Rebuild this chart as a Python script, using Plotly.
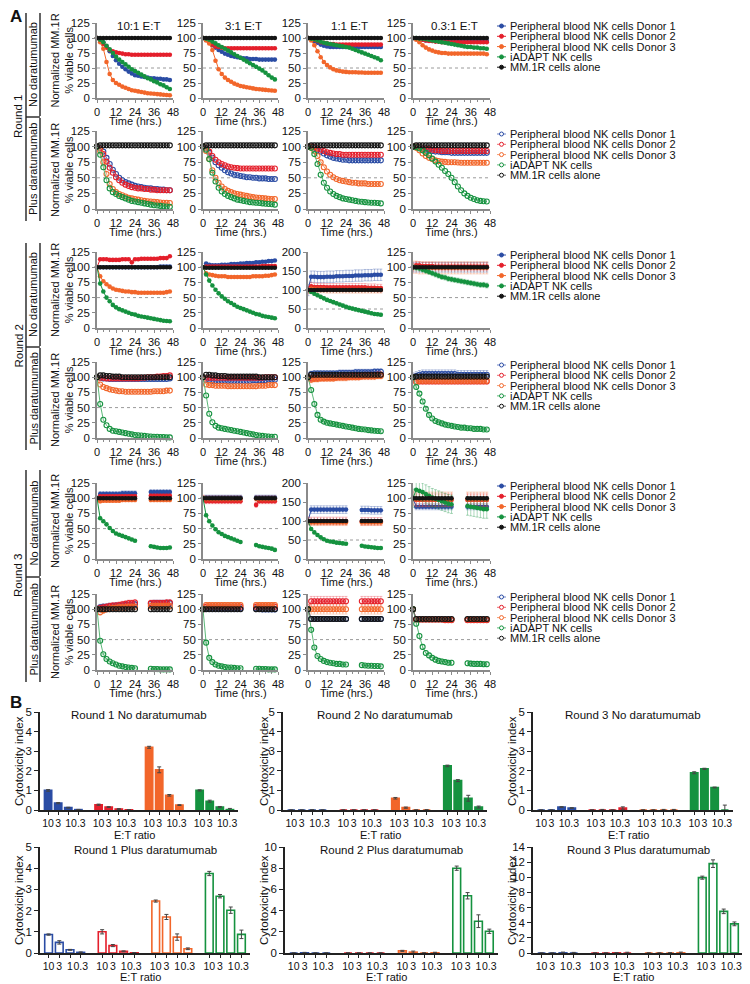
"""
NK cell killing of MM.1R cells - viability time courses (A) and cytotoxicity index (B)
"""
import plotly.graph_objects as go

W, H = 750, 984
OFF = 8  # the page body adds an 8 px margin; reference pixel positions are shifted back by it
FONT = "Arial, Liberation Sans, sans-serif"

# ---------------- data: panel A ----------------
T = [0, 2, 4, 6, 8, 10, 12, 14, 16, 18, 20, 22, 24, 26, 28, 30, 32, 34, 36, 38, 40, 42, 44, 46]
N = None

SERIES = ["Peripheral blood NK cells Donor 1", "Peripheral blood NK cells Donor 2",
          "Peripheral blood NK cells Donor 3", "iADAPT NK cells", "MM.1R cells alone"]
KEYS = ["d1", "d2", "d3", "ia", "mm"]
COL_TITLES = ["10:1 E:T", "3:1 E:T", "1:1 E:T", "0.3:1 E:T"]

# Round 1, no daratumumab
r1n_10 = {
    "d1": [100, 98, 93, 86, 78, 70, 63, 57, 52, 48, 44, 41, 38, 37, 36, 35, 34, 33, 33, 32, 32, 31, 31, 30],
    "d2": [100, 96, 90, 84, 80, 78, 76, 75, 74, 73, 73, 72, 72, 72, 72, 72, 72, 72, 72, 72, 72, 72, 72, 72],
    "d3": [100, 93, 82, 60, 40, 30, 25, 22, 19, 17, 15, 13, 12, 11, 10, 9, 8, 7.5, 7, 6.5, 6, 5.5, 5, 4.5],
    "ia": [100, 97, 93, 87, 81, 75, 69, 64, 60, 56, 52, 48, 45, 42, 39, 36, 33, 31, 28, 26, 23, 21, 18, 15],
    "mm": [100, 100, 100, 100, 100, 100, 100, 100, 100, 100, 100, 100, 100, 100, 100, 100, 100, 100, 100, 100, 100, 100, 100, 100],
}
r1n_3 = {
    "d1": [100, 97, 93, 88, 84, 80, 77, 74, 72, 70, 69, 68, 67, 66, 66, 65, 65, 65, 64, 64, 64, 64, 64, 64],
    "d2": [100, 97, 93, 89, 86, 85, 84, 83, 83, 83, 83, 83, 83, 83, 83, 83, 83, 83, 83, 83, 83, 83, 83, 83],
    "d3": [100, 96, 91, 80, 62, 48, 40, 34, 30, 27, 24, 22, 20, 19, 18, 17, 16, 15, 14.5, 14, 13.5, 13, 12.5, 12],
    "ia": [100, 99, 97, 94, 91, 88, 85, 82, 79, 76, 73, 70, 67, 64, 61, 58, 55, 52, 49, 46, 42, 38, 34, 31],
    "mm": [100, 100, 100, 100, 100, 100, 100, 100, 100, 100, 100, 100, 100, 100, 100, 100, 100, 100, 100, 100, 100, 100, 100, 100],
}
r1n_1 = {
    "d1": [100, 98, 95, 92, 89, 87, 86, 85, 85, 85, 85, 85, 85, 85, 85, 85, 85, 85, 85, 85, 85, 85, 85, 85],
    "d2": [100, 99, 97, 95, 93, 92, 91, 90, 90, 89, 89, 89, 89, 89, 89, 89, 89, 89, 89, 89, 89, 89, 89, 89],
    "d3": [100, 96, 88, 78, 68, 60, 55, 51, 48, 46, 45, 44, 43.5, 43, 43, 43, 42.5, 42.5, 42, 42, 42, 42, 42, 42],
    "ia": [100, 99, 98, 96, 94, 92, 91, 90, 89, 88, 87, 86, 85, 84, 82, 80, 78, 76, 74, 72, 70, 68, 66, 63],
    "mm": [100, 100, 100, 100, 100, 100, 100, 100, 100, 100, 100, 100, 100, 100, 100, 100, 100, 100, 100, 100, 100, 100, 100, 100],
}
r1n_03 = {
    "d1": [100, 99, 98, 97, 96, 96, 95, 95, 95, 95, 95, 95, 95, 95, 95, 95, 95, 95, 95, 95, 95, 95, 95, 95],
    "d2": [100, 99, 98, 97, 96, 95, 95, 94, 94, 93, 93, 93, 93, 93, 93, 93, 93, 93, 93, 93, 93, 93, 93, 93],
    "d3": [100, 97, 93, 88, 84, 81, 79, 77, 76, 75, 75, 74, 74, 74, 74, 74, 74, 74, 74, 74, 74, 74, 74, 73],
    "ia": [100, 100, 99, 99, 98, 97, 96, 95, 94, 93, 92, 91, 90, 89, 88, 87, 86, 85, 85, 84, 84, 83, 83, 82],
    "mm": [100, 100, 100, 100, 100, 100, 100, 100, 100, 100, 100, 100, 100, 100, 100, 100, 100, 100, 100, 100, 100, 100, 100, 100],
}

# Round 1, plus daratumumab
r1p_10 = {
    "d1": [100, 98, 92, 82, 72, 63, 56, 50, 46, 43, 41, 39, 37, 36, 35, 34, 33, 33, 32, 32, 31, 31, 30, 30],
    "d2": [100, 97, 88, 76, 66, 58, 51, 46, 42, 39, 37, 35, 34, 33, 33, 32, 32, 31, 31, 30, 30, 30, 30, 30],
    "d3": [100, 93, 75, 56, 40, 32, 27, 24, 22, 20, 18, 17, 16, 15, 14, 13, 12.5, 12, 11.5, 11, 10.5, 10, 10, 9.5],
    "ia": [100, 87, 67, 46, 33, 27, 24, 21, 19, 17, 15, 13, 12, 11, 10, 9, 8, 7, 6, 5.5, 5, 4.5, 4, 3.5],
    "mm": [100, 102, 102, 102, 102, 102, 102, 102, 102, 102, 102, 102, 102, 102, 102, 102, 102, 102, 102, 102, 102, 102, 102, 102],
}
r1p_3 = {
    "d1": [100, 97, 90, 82, 75, 70, 66, 62, 59, 57, 55, 54, 53, 52, 51, 51, 50, 50, 49, 49, 49, 48, 48, 48],
    "d2": [100, 98, 92, 85, 79, 75, 72, 70, 68, 67, 66, 65.5, 65, 65, 65, 65, 65, 65, 65, 65, 65, 65, 65, 65],
    "d3": [100, 93, 80, 62, 50, 42, 36, 32, 29, 27, 25, 24, 23, 22, 21, 20, 19, 18.5, 18, 17.5, 17, 16.5, 16, 16],
    "ia": [100, 95, 80, 58, 44, 34, 28, 24, 21, 19, 17, 15, 14, 13, 12, 11, 10.5, 10, 9.5, 9, 8.5, 8, 7.5, 7],
    "mm": [100, 102, 102, 102, 102, 102, 102, 102, 102, 102, 102, 102, 102, 102, 102, 102, 102, 102, 102, 102, 102, 102, 102, 102],
}
r1p_1 = {
    "d1": [100, 100, 98, 95, 92, 89, 86, 84, 82, 81, 80, 79, 79, 78, 78, 78, 78, 78, 78, 78, 78, 78, 78, 78],
    "d2": [100, 100, 99, 97, 95, 93, 91, 90, 89, 88, 88, 87, 87, 87, 87, 87, 87, 87, 87, 87, 87, 87, 87, 87],
    "d3": [100, 98, 93, 85, 75, 67, 60, 55, 51, 48, 46, 45, 44, 43, 42, 42, 41, 41, 41, 40, 40, 40, 40, 40],
    "ia": [100, 98, 88, 72, 55, 42, 34, 28, 24, 21, 19, 17, 16, 15, 14, 13, 12, 11.5, 11, 10.5, 10, 10, 9.5, 9],
    "mm": [100, 102, 102, 102, 102, 102, 102, 102, 102, 102, 102, 102, 102, 102, 102, 102, 102, 102, 102, 102, 102, 102, 102, 102],
}
r1p_03 = {
    "d1": [100, 99, 98, 96, 95, 94, 93, 92, 92, 91, 91, 91, 90, 90, 90, 90, 90, 90, 90, 90, 90, 90, 90, 90],
    "d2": [100, 100, 99, 98, 97, 96, 95, 94, 94, 93, 93, 93, 93, 93, 93, 93, 93, 93, 93, 93, 93, 93, 93, 93],
    "d3": [100, 98, 94, 89, 85, 82, 80, 78, 77, 76, 75.5, 75, 75, 75, 74.5, 74, 74, 74, 74, 74, 74, 74, 74, 74],
    "ia": [100, 99, 97, 94, 90, 86, 81, 76, 71, 66, 61, 56, 50, 43, 36, 30, 25, 21, 18, 16, 14, 13, 12.5, 12],
    "mm": [100, 102, 102, 102, 102, 102, 102, 102, 102, 102, 102, 102, 102, 102, 102, 102, 102, 102, 102, 102, 102, 102, 102, 102],
}

# Round 2, no daratumumab
r2n_10 = {
    "d1": [100, 100, 100, 100, 100, 100, 100, 100, 100, 100, 100, 100, 100, 100, 100, 100, 100, 100, 100, 100, 101, 101, 101, 101],
    "d2": [100, 113, 113, 113, 112, 112, 112, 112, 113, 113, 113, 108, 113, 113, 114, 114, 114, 114, 114, 114, 115, 115, 115, 118],
    "d3": [100, 85, 77, 72, 68, 65, 63, 62, 61, 60, 60, 59, 59, 58, 58, 58, 58, 58, 58, 58, 58, 58, 59, 60],
    "ia": [100, 73, 60, 50, 44, 38, 34, 31, 29, 27, 25, 23, 22, 20, 19, 18, 17, 16, 15, 14, 13, 12, 11.5, 11],
    "mm": [100, 100, 100, 100, 100, 100, 100, 100, 100, 100, 100, 100, 100, 100, 100, 100, 100, 100, 100, 100, 100, 100, 100, 100],
}
r2n_3 = {
    "d1": [100, 106, 104, 103, 103, 103, 104, 104, 104, 105, 105, 105, 106, 106, 107, 107, 107, 108, 108, 109, 109, 110, 110, 111],
    "d2": [100, 101, 101, 101, 101, 101, 101, 101, 101, 101, 101, 101, 101, 101, 101, 101, 101, 101, 101, 102, 102, 102, 102, 102],
    "d3": [100, 90, 88, 87, 86, 85, 85, 85, 84, 84, 84, 84, 84, 84, 84, 84, 85, 85, 85, 85, 86, 86, 87, 88],
    "ia": [100, 88, 78, 70, 63, 57, 52, 48, 44, 41, 38, 35, 33, 31, 29, 27, 25, 23, 22, 20, 19, 18, 17, 16],
    "mm": [100, 99, 99, 99, 99, 99, 99, 99, 99, 99, 99, 99, 99, 99, 99, 99, 99, 99, 99, 99, 99, 99, 99, 99],
}
r2n_1 = {
    "d1": [100, 135, 135, 134, 134, 134, 135, 135, 135, 136, 136, 136, 137, 137, 137, 138, 138, 138, 139, 139, 139, 140, 140, 140],
    "d2": [100, 110, 108, 108, 108, 108, 107, 107, 107, 107, 107, 107, 107, 107, 107, 107, 107, 107, 107, 106, 106, 106, 105, 105],
    "d3": [100, 103, 102, 101, 101, 101, 100, 100, 100, 100, 100, 100, 100, 100, 100, 100, 100, 100, 100, 100, 100, 100, 100, 100],
    "ia": [100, 95, 90, 86, 82, 78, 74, 71, 68, 65, 62, 59, 56, 53, 51, 49, 47, 45, 43, 41, 39, 37, 36, 35],
    "mm": [100, 100, 100, 100, 100, 100, 100, 100, 100, 100, 100, 100, 100, 100, 100, 100, 100, 100, 100, 100, 100, 100, 100, 100],
}
r2n_03 = {
    "d1": [100, 100, 100, 100, 100, 100, 100, 100, 100, 100, 100, 100, 100, 100, 100, 100, 100, 100, 100, 100, 100, 100, 100, 100],
    "d2": [100, 103, 103, 102, 102, 102, 102, 101, 101, 101, 101, 101, 101, 101, 101, 101, 101, 101, 101, 101, 101, 101, 101, 101],
    "d3": [100, 100, 99, 99, 99, 99, 99, 99, 99, 99, 99, 99, 99, 99, 99, 99, 99, 99, 99, 99, 99, 99, 99, 99],
    "ia": [100, 99, 98, 96, 94, 92, 90, 88, 86, 84, 83, 81, 80, 79, 78, 77, 76, 75, 74, 73, 72, 71, 71, 70],
    "mm": [100, 100, 100, 100, 100, 100, 100, 100, 100, 100, 100, 100, 100, 100, 100, 100, 100, 100, 100, 100, 100, 100, 100, 100],
}

# Round 2, plus daratumumab
r2p_10 = {
    "d1": [100, 99, 98, 98, 97, 97, 97, 97, 97, 97, 97, 97, 97, 97, 97, 97, 97, 97, 97, 97, 97, 97, 97, 98],
    "d2": [100, 99, 99, 98, 98, 98, 98, 98, 98, 98, 98, 98, 98, 98, 99, 99, 100, 100, 100, 101, 101, 102, 102, 103],
    "d3": [100, 88, 84, 82, 80, 79, 78, 77, 77, 76, 76, 76, 76, 76, 76, 76, 76, 76, 77, 77, 77, 77, 78, 78],
    "ia": [100, 56, 30, 21, 15, 12, 11, 10, 9, 8, 7, 6, 5, 4.5, 4, 3.5, 3, 2.5, 2, 2, 1.5, 1.5, 1, 1],
    "mm": [100, 103, 103, 102, 102, 101, 101, 101, 100, 100, 100, 100, 100, 100, 100, 100, 100, 100, 100, 100, 100, 100, 100, 100],
}
r2p_3 = {
    "d1": [100, 96, 95, 94, 94, 94, 94, 94, 94, 94, 94, 94, 94, 94, 94, 94, 95, 95, 95, 95, 95, 96, 96, 96],
    "d2": [100, 99, 99, 99, 99, 99, 99, 99, 99, 99, 99, 99, 99, 99, 99, 99, 99, 99, 99, 99, 100, 100, 100, 100],
    "d3": [100, 88, 87, 87, 86, 86, 86, 86, 85, 85, 85, 85, 85, 85, 85, 85, 85, 85, 86, 86, 86, 87, 87, 87],
    "ia": [100, 70, 40, 26, 20, 17, 16, 15, 14, 13, 12, 11, 10, 9, 8, 7, 6, 5, 4, 3.5, 3, 2.5, 2, 2],
    "mm": [100, 104, 104, 103, 103, 102, 102, 102, 101, 101, 101, 101, 101, 101, 101, 101, 101, 101, 100, 100, 100, 100, 100, 100],
}
r2p_1 = {
    "d1": [100, 105, 106, 106, 106, 106, 106, 106, 106, 106, 107, 107, 107, 107, 107, 108, 108, 108, 108, 108, 108, 109, 109, 109],
    "d2": [100, 98, 99, 99, 99, 99, 100, 100, 100, 100, 101, 101, 101, 101, 102, 102, 102, 102, 103, 103, 103, 103, 104, 104],
    "d3": [100, 96, 97, 97, 98, 98, 98, 98, 98, 99, 99, 99, 99, 100, 100, 100, 100, 101, 101, 101, 101, 101, 102, 102],
    "ia": [100, 79, 56, 38, 30, 27, 25, 24, 23, 22, 21, 20, 19, 18, 17, 16, 15, 14.5, 14, 13, 12.5, 12, 11.5, 11],
    "mm": [100, 104, 104, 104, 104, 104, 104, 104, 104, 104, 104, 104, 104, 104, 104, 104, 104, 104, 104, 104, 104, 104, 104, 104],
}
r2p_03 = {
    "d1": [100, 102, 104, 105, 105, 105, 105, 105, 105, 105, 105, 105, 105, 105, 104, 104, 104, 104, 104, 104, 104, 104, 104, 104],
    "d2": [100, 92, 93, 93, 93, 93, 93, 93, 93, 93, 93, 93, 93, 93, 93, 93, 93, 93, 93, 93, 93, 93, 93, 93],
    "d3": [100, 93, 94, 94, 94, 94, 94, 94, 94, 94, 94, 94, 94, 94, 94, 94, 94, 94, 94, 94, 94, 94, 94, 94],
    "ia": [100, 84, 73, 60, 48, 38, 32, 28, 26, 24, 22, 21, 20, 19, 18, 17, 17, 16, 16, 15, 15, 15, 14, 14],
    "mm": [100, 101, 101, 101, 101, 101, 101, 101, 101, 101, 101, 101, 101, 101, 101, 101, 101, 101, 101, 101, 101, 101, 101, 101],
}

# Round 3, no daratumumab (no reads between 26 and 32 h)
r3n_10 = {
    "d1": [100, 107, 107, 107, 107, 107, 107, 107, 108, 108, 108, 108, 108, N, N, N, N, 110, 110, 110, 110, 110, 110, 110],
    "d2": [100, 103, 103, 103, 103, 103, 103, 103, 103, 103, 103, 103, 103, N, N, N, N, 104, 104, 104, 104, 104, 104, 104],
    "d3": [100, 95, 96, 96, 96, 96, 96, 96, 97, 97, 97, 97, 97, N, N, N, N, 97, 97, 97, 97, 97, 97, 97],
    "ia": [100, 67, 62, 57, 51, 46, 42, 40, 38, 36, 34, 32, 30, N, N, N, N, 21, 20, 19, 18, 18, 18, 19],
    "mm": [100, 100, 100, 100, 100, 100, 100, 100, 100, 100, 100, 100, 100, N, N, N, N, 100, 100, 100, 100, 100, 100, 100],
}
r3n_3 = {
    "d1": [100, 101, 101, 101, 101, 101, 101, 101, 101, 101, 101, 101, 101, N, N, N, N, 101, 101, 101, 101, 101, 101, 101],
    "d2": [100, 95, 95, 95, 95, 95, 95, 95, 95, 95, 95, 95, 95, N, N, N, N, 89, 95, 95, 95, 95, 95, 95],
    "d3": [100, 99, 99, 99, 99, 99, 99, 99, 99, 99, 99, 99, 99, N, N, N, N, 99, 99, 99, 99, 99, 99, 99],
    "ia": [100, 72, 62, 55, 49, 44, 41, 38, 36, 34, 32, 30, 28, N, N, N, N, 23, 21, 20, 19, 18, 17, 15],
    "mm": [100, 100, 100, 100, 100, 100, 100, 100, 100, 100, 100, 100, 100, N, N, N, N, 100, 100, 100, 100, 100, 100, 100],
}
r3n_1 = {
    "d1": [100, 130, 130, 130, 130, 130, 130, 130, 130, 130, 130, 130, 130, N, N, N, N, 129, 129, 129, 128, 128, 128, 128],
    "d2": [100, 100, 100, 100, 100, 100, 100, 100, 100, 100, 100, 100, 100, N, N, N, N, 99, 99, 99, 99, 99, 99, 99],
    "d3": [100, 96, 96, 96, 96, 96, 96, 96, 96, 96, 96, 96, 96, N, N, N, N, 96, 96, 96, 96, 96, 96, 96],
    "ia": [100, 79, 70, 63, 57, 52, 48, 46, 45, 43, 42, 41, 40, N, N, N, N, 35, 33, 32, 31, 30, 29, 29],
    "mm": [100, 100, 100, 100, 100, 100, 100, 100, 100, 100, 100, 100, 100, N, N, N, N, 100, 100, 100, 100, 100, 100, 100],
}
r3n_03 = {
    "d1": [100, 86, 86, 86, 86, 86, 86, 86, 86, 86, 86, 86, 86, N, N, N, N, 86, 86, 86, 86, 86, 86, 86],
    "d2": [100, 97, 97, 97, 97, 97, 97, 97, 97, 97, 97, 97, 97, N, N, N, N, 97, 97, 97, 97, 97, 97, 97],
    "d3": [100, 98, 98, 98, 98, 98, 98, 98, 98, 98, 98, 98, 98, N, N, N, N, 98, 98, 98, 98, 98, 98, 98],
    "ia": [100, 114, 112, 110, 107, 104, 101, 99, 97, 95, 93, 91, 90, N, N, N, N, 87, 86, 85, 84, 83, 82, 82],
    "mm": [100, 100, 100, 100, 100, 100, 100, 100, 100, 100, 100, 100, 100, N, N, N, N, 100, 100, 100, 100, 100, 100, 100],
}

# Round 3, plus daratumumab
r3p_10 = {
    "d1": [100, 103, 104, 104, 105, 105, 106, 106, 106, 107, 107, 107, 108, N, N, N, N, 109, 110, 110, 110, 110, 110, 110],
    "d2": [100, 102, 103, 104, 105, 106, 106, 107, 108, 109, 110, 110, 111, N, N, N, N, 110, 110, 110, 110, 110, 111, 111],
    "d3": [100, 95, 98, 100, 101, 102, 102, 103, 103, 103, 104, 104, 104, N, N, N, N, 105, 105, 105, 105, 105, 105, 105],
    "ia": [100, 48, 26, 18, 14, 11, 9, 7, 6, 5, 4, 3.5, 3, N, N, N, N, 2, 1.5, 1.5, 1, 1, 1, 1],
    "mm": [100, 100, 100, 100, 100, 100, 100, 100, 100, 100, 100, 100, 100, N, N, N, N, 100, 100, 100, 100, 100, 100, 100],
}
r3p_3 = {
    "d1": [100, 101, 101, 101, 101, 101, 101, 101, 101, 101, 101, 101, 101, N, N, N, N, 101, 101, 100, 100, 100, 100, 100],
    "d2": [100, 104, 104, 104, 104, 104, 104, 104, 104, 104, 104, 104, 104, N, N, N, N, 104, 104, 104, 104, 104, 104, 104],
    "d3": [100, 107, 107, 107, 107, 107, 107, 107, 107, 107, 107, 107, 107, N, N, N, N, 107, 107, 107, 107, 107, 107, 107],
    "ia": [100, 45, 20, 13, 9, 7, 6, 5, 4, 4, 3.5, 3, 3, N, N, N, N, 2, 2, 1.5, 1.5, 1, 1, 1],
    "mm": [100, 100, 100, 100, 100, 100, 100, 100, 100, 100, 100, 100, 100, N, N, N, N, 100, 100, 100, 100, 100, 100, 100],
}
r3p_1 = {
    "d1": [100, 84, 84, 84, 84, 84, 84, 84, 84, 84, 84, 84, 84, N, N, N, N, 84, 84, 84, 84, 84, 84, 84],
    "d2": [100, 113, 113, 113, 113, 113, 113, 113, 113, 113, 113, 113, 113, N, N, N, N, 113, 113, 113, 113, 113, 113, 113],
    "d3": [100, 100, 100, 100, 100, 100, 100, 100, 100, 100, 100, 100, 100, N, N, N, N, 100, 100, 100, 100, 100, 100, 100],
    "ia": [100, 66, 37, 23, 18, 15, 13, 12, 11, 10, 10, 9, 9, N, N, N, N, 8, 7.5, 7, 7, 6.5, 6.5, 6],
    "mm": [100, 84, 84, 84, 84, 84, 84, 84, 84, 84, 84, 84, 84, N, N, N, N, 84, 84, 84, 84, 84, 84, 84],
}
r3p_03 = {
    "d1": [100, 83, 83, 83, 83, 83, 83, 83, 83, 83, 83, 83, 83, N, N, N, N, 83, 83, 83, 83, 83, 83, 83],
    "d2": [100, 83, 83, 83, 83, 83, 83, 83, 83, 83, 82, 82, 82, N, N, N, N, 82, 82, 82, 82, 82, 82, 82],
    "d3": [100, 83, 83, 83, 83, 83, 83, 83, 83, 83, 83, 83, 83, N, N, N, N, 83, 83, 83, 83, 83, 83, 83],
    "ia": [100, 76, 56, 38, 28, 24, 20, 17, 15, 14, 13, 12, 12, N, N, N, N, 11, 10.5, 10, 10, 10, 9.5, 9.5],
    "mm": [100, 84, 84, 84, 84, 84, 84, 84, 84, 84, 84, 84, 84, N, N, N, N, 84, 84, 84, 84, 84, 84, 84],
}

# typical SEM per series, where the error bars are visible
ERR = {
    "r2n_1": {"d1": 15, "d2": 10, "d3": 8, "ia": 4, "mm": 3},
    "r2n_03": {"d1": 8, "d2": 6, "d3": 10, "ia": 4, "mm": 2},
    "r2p_1": {"d1": 5, "d2": 5, "d3": 5, "ia": 2, "mm": 2},
    "r2p_03": {"d1": 7, "d2": 4, "d3": 5, "ia": 2, "mm": 2},
    "r3n_10": {"d1": 4, "d2": 3, "d3": 3, "ia": 2, "mm": 2},
    "r3n_3": {"d1": 4, "d2": 4, "d3": 5, "ia": 2, "mm": 2},
    "r3n_1": {"d1": 10, "d2": 10, "d3": 8, "ia": 3, "mm": 3},
    "r3n_03": {"d1": 5, "d2": 10, "d3": 12, "ia": 15, "mm": 3},
    "r3p_10": {"d1": 5, "d2": 5, "d3": 5, "ia": 1, "mm": 4},
    "r3p_3": {"d1": 5, "d2": 5, "d3": 4, "ia": 1, "mm": 3},
    "r3p_1": {"d1": 3, "d2": 8, "d3": 8, "ia": 1, "mm": 3},
    "r3p_03": {"d1": 2, "d2": 2, "d3": 2, "ia": 4, "mm": 2},
}

ROWS = [
    ("r1n", [r1n_10, r1n_3, r1n_1, r1n_03], False),
    ("r1p", [r1p_10, r1p_3, r1p_1, r1p_03], True),
    ("r2n", [r2n_10, r2n_3, r2n_1, r2n_03], False),
    ("r2p", [r2p_10, r2p_3, r2p_1, r2p_03], True),
    ("r3n", [r3n_10, r3n_3, r3n_1, r3n_03], False),
    ("r3p", [r3p_10, r3p_3, r3p_1, r3p_03], True),
]
COL_SUFFIX = ["10", "3", "1", "03"]
Y200 = {"r2n_1", "r3n_1"}

# ---------------- data: panel B ----------------
B_POS = [0, 1, 2, 3, 5, 6, 7, 8, 10, 11, 12, 13, 15, 16, 17, 18]
B_TICKS = ["10", "3", "1", "0.3", "10", "3", "1", "0.3", "10", "3", "1", "0.3", "10", "3", "1", "0.3"]

b_r1n = {"d1": [1.0, 0.35, 0.12, 0.02], "d2": [0.27, 0.15, 0.05, 0.01],
         "d3": [3.2, 2.05, 0.75, 0.25], "ia": [1.0, 0.45, 0.15, 0.02]}
b_r1n_err = {"d1": [0.04, 0.03, 0.02, 0.01], "d2": [0.03, 0.02, 0.02, 0.01],
             "d3": [0.05, 0.15, 0.04, 0.02], "ia": [0.03, 0.05, 0.03, 0.06]}
b_r2n = {"d1": [0, 0, 0, 0], "d2": [0, 0, 0, 0],
         "d3": [0.6, 0.12, 0, 0], "ia": [2.25, 1.5, 0.6, 0.15]}
b_r2n_err = {"d1": [0.01, 0.01, 0.02, 0.01], "d2": [0.01, 0.01, 0.01, 0.01],
             "d3": [0.04, 0.03, 0.01, 0.02], "ia": [0.04, 0.05, 0.15, 0.05]}
b_r3n = {"d1": [0, 0, 0.15, 0.1], "d2": [0, 0, 0, 0.1],
         "d3": [0, 0, 0, 0], "ia": [1.9, 2.1, 1.15, 0]}
b_r3n_err = {"d1": [0.01, 0.01, 0.02, 0.02], "d2": [0.01, 0.03, 0.01, 0.06],
             "d3": [0.01, 0.01, 0.03, 0.03], "ia": [0.05, 0.03, 0.02, 0.25]}
b_r1p = {"d1": [0.87, 0.5, 0.15, 0.03], "d2": [1.0, 0.35, 0.08, 0.01],
         "d3": [2.45, 1.7, 0.75, 0.2], "ia": [3.75, 2.68, 2.02, 0.88]}
b_r1p_err = {"d1": [0.03, 0.08, 0.02, 0.02], "d2": [0.1, 0.05, 0.02, 0.01],
             "d3": [0.05, 0.12, 0.15, 0.04], "ia": [0.1, 0.08, 0.15, 0.2]}
b_r2p = {"d1": [0, 0.02, 0, 0], "d2": [0, 0, 0, 0],
         "d3": [0.2, 0.08, 0, 0.02], "ia": [8.0, 5.4, 3.0, 2.05]}
b_r2p_err = {"d1": [0.02, 0.04, 0.02, 0.02], "d2": [0.02, 0.02, 0.02, 0.02],
             "d3": [0.05, 0.1, 0.02, 0.05], "ia": [0.2, 0.3, 0.6, 0.2]}
b_r3p = {"d1": [0, 0, 0.02, 0], "d2": [0, 0, 0.02, 0],
         "d3": [0, 0, 0, 0.02], "ia": [9.95, 11.8, 5.5, 3.85]}
b_r3p_err = {"d1": [0.02, 0.02, 0.1, 0.08], "d2": [0.02, 0.02, 0.02, 0.1],
             "d3": [0.02, 0.02, 0.05, 0.1], "ia": [0.2, 0.5, 0.3, 0.25]}

B_PANELS = [
    ("Round 1 No daratumumab", b_r1n, b_r1n_err, False, 5, 1),
    ("Round 2 No daratumumab", b_r2n, b_r2n_err, False, 5, 1),
    ("Round 3 No daratumumab", b_r3n, b_r3n_err, False, 5, 1),
    ("Round 1 Plus daratumumab", b_r1p, b_r1p_err, True, 5, 1),
    ("Round 2 Plus daratumumab", b_r2p, b_r2p_err, True, 10, 2),
    ("Round 3 Plus daratumumab", b_r3p, b_r3p_err, True, 14, 2),
]

# ---------------- style / geometry (reference pixel positions) ----------------
COLORS = {"d1": "#2A4CA4", "d2": "#E41F2B", "d3": "#F2662A", "ia": "#15923F", "mm": "#141414"}
SOFT = {"d1": "rgba(42,76,164,0.35)", "d2": "rgba(228,31,43,0.3)", "d3": "rgba(242,102,42,0.3)",
        "ia": "rgba(21,146,63,0.35)", "mm": "rgba(20,20,20,0.3)"}
LIGHT = {"d1": "#6F84C6", "d2": "#EE6A70", "d3": "#F6996F", "ia": "#5DB879", "mm": "#666666"}
AXC = "#8a8a8a"

A_COLS = [(97, 173), (203, 278), (308, 384), (413, 490)]
A_ROWS = [(23, 98), (131, 209), (252, 328), (362, 438), (483, 559), (594, 670)]
B_COLS = [[(40, 238), (283, 487), (533, 733)], [(40, 250), (285, 498), (533, 743)]]
B_ROWS = [(712, 810), (847, 953)]
B_YTITLE_X = [19, 264, 512]
BRACKETS = [(13, 117, 221), (243, 347, 450), (470, 577, 682)]


def px(x):
    return (x - OFF) / W


def py(y):
    return 1 - (y - OFF) / H


def text(x, y, s, size=11, angle=0, xanchor="center", yanchor="middle", bold=False):
    return dict(x=px(x), y=py(y), xref="paper", yref="paper", text=f"<b>{s}</b>" if bold else s,
                showarrow=False, textangle=angle, xanchor=xanchor, yanchor=yanchor,
                font=dict(size=size, color="#111", family=FONT))


def hline(x0, x1, y, color="#222", width=1.4):
    return dict(type="line", xref="paper", yref="paper", x0=px(x0), x1=px(x1), y0=py(y), y1=py(y),
                line=dict(color=color, width=width))


def vline(x, y0, y1, color="#222", width=1.4):
    return dict(type="line", xref="paper", yref="paper", x0=px(x), x1=px(x), y0=py(y0), y1=py(y1),
                line=dict(color=color, width=width))


fig = go.Figure()
layout = {}
annotations = []
shapes = []

# ---------------- panel A ----------------
for r, (rid, panels, plus) in enumerate(ROWS):
    ytop, ybot = A_ROWS[r]
    for c, data in enumerate(panels):
        n = r * 4 + c + 1
        pid = f"{rid}_{COL_SUFFIX[c]}"
        ymax = 200 if pid in Y200 else 125
        err = ERR.get(pid, {})
        for k in KEYS:
            e = err.get(k)
            fig.add_trace(go.Scatter(
                x=T, y=data[k], xaxis=f"x{n}", yaxis=f"y{n}", mode="lines+markers",
                line=dict(color=LIGHT[k] if plus else COLORS[k], width=1),
                marker=dict(symbol="circle-open" if plus else "circle", size=5 if plus else 4.6,
                            color=COLORS[k], line=dict(width=1.1 if plus else 0, color=COLORS[k])),
                error_y=dict(type="constant", value=e, color=SOFT[k], thickness=1, width=1.5)
                if e else None,
                cliponaxis=False, showlegend=False, hoverinfo="skip",
            ))
        x0, x1 = A_COLS[c]
        layout[f"xaxis{n}"] = dict(
            domain=[px(x0), px(x1)], anchor=f"y{n}", range=[0, 48], tick0=0, dtick=12,
            ticks="outside", ticklen=3, tickwidth=1.2, tickcolor=AXC, automargin=False,
            minor=dict(ticks="outside", ticklen=2, dtick=4, tick0=0, tickcolor=AXC, tickwidth=1),
            showline=True, linecolor=AXC, linewidth=1.6, showgrid=False, zeroline=False,
            tickfont=dict(size=11, color="#111", family=FONT),
        )
        layout[f"yaxis{n}"] = dict(
            domain=[py(ybot), py(ytop)], anchor=f"x{n}", range=[0, ymax], tick0=0,
            dtick=50 if ymax == 200 else 25, automargin=False,
            ticks="outside", ticklen=3, tickwidth=1.2, tickcolor=AXC,
            showline=True, linecolor=AXC, linewidth=1.6, showgrid=False, zeroline=False,
            tickfont=dict(size=11.5, color="#111", family=FONT),
        )
        shapes.append(dict(type="line", xref=f"x{n}", yref=f"y{n}", x0=0, x1=48, y0=50, y1=50,
                           line=dict(color="#9a9a9a", width=1, dash="dot"), layer="below"))
        annotations.append(text((x0 + x1) / 2, ybot + 23, "Time (hrs.)", size=11))
        if r == 0:
            annotations.append(text((x0 + x1) / 2 + 3, ytop + 3, COL_TITLES[c], size=11.5))

    # y title for the row
    annotations.append(text(62, (ytop + ybot) / 2, "Normalized MM.1R<br>% viable cells", size=11, angle=-90))

    # custom legend
    for i, k in enumerate(KEYS):
        ly = ytop + 3 + i * 10.3
        shapes.append(dict(type="line", xref="paper", yref="paper", x0=px(497), x1=px(506),
                           y0=py(ly), y1=py(ly), line=dict(color=LIGHT[k] if plus else COLORS[k], width=1)))
        shapes.append(dict(type="circle", xref="paper", yref="paper", xsizemode="pixel", ysizemode="pixel",
                           xanchor=px(501.5), yanchor=py(ly), x0=-2, x1=2, y0=-2, y1=2,
                           fillcolor="white" if plus else COLORS[k],
                           line=dict(color=COLORS[k], width=1)))
        annotations.append(text(508, ly, SERIES[i], size=11, xanchor="left"))

# round / condition labels with brackets
for i, (t, m, b) in enumerate(BRACKETS):
    annotations.append(text(18, (t + b) / 2, f"Round {i + 1}", size=11.5, angle=-90))
    annotations.append(text(33, (t + m) / 2, "No daratumumab", size=11, angle=-90))
    annotations.append(text(33, (m + b) / 2, "Plus daratumumab", size=11, angle=-90))
    shapes.append(vline(26, t, b))
    shapes.append(vline(40, t, m - 1))
    shapes.append(vline(40, m + 1, b))
    shapes.append(hline(26, 40, m))

annotations.append(text(OFF, 16, "A", size=17, xanchor="left", bold=True))
annotations.append(text(OFF, 702, "B", size=17, xanchor="left", bold=True))

# ---------------- panel B ----------------
for j, (title, vals, errs, plus, ymax, dt) in enumerate(B_PANELS):
    br, bc = divmod(j, 3)
    n = 25 + j
    ytop, ybot = B_ROWS[br]
    x0, x1 = B_COLS[br][bc]
    for g, k in enumerate(["d1", "d2", "d3", "ia"]):
        fig.add_trace(go.Bar(
            x=B_POS[g * 4:(g + 1) * 4], y=vals[k], xaxis=f"x{n}", yaxis=f"y{n}", width=0.72,
            marker=dict(color="white" if plus else COLORS[k], line=dict(color=COLORS[k], width=1.6)),
            error_y=dict(type="data", array=errs[k], color="#444", thickness=1, width=2),
            showlegend=False, hoverinfo="skip",
        ))
    layout[f"xaxis{n}"] = dict(
        domain=[px(x0), px(x1)], anchor=f"y{n}", range=[-0.8, 18.8], automargin=False,
        tickmode="array", tickvals=B_POS, ticktext=B_TICKS, tickangle=0, ticks="outside", ticklen=3,
        tickcolor="#222", tickwidth=1.2, showline=True, linecolor="#222", linewidth=1.5,
        showgrid=False, zeroline=False, tickfont=dict(size=10.5, color="#111", family=FONT),
    )
    layout[f"yaxis{n}"] = dict(
        domain=[py(ybot), py(ytop)], anchor=f"x{n}", range=[0, ymax], tick0=0, dtick=dt,
        ticks="outside", ticklen=4, tickcolor="#222", tickwidth=1.2, automargin=False,
        showline=True, linecolor="#222", linewidth=1.5, showgrid=False, zeroline=False,
        tickfont=dict(size=11.5, color="#111", family=FONT),
    )
    annotations.append(text((x0 + x1) / 2, ytop + 3, title, size=11.5))
    annotations.append(text((x0 + x1) / 2 - 5, ybot + 25 if br == 0 else ybot + 23.5, "E:T ratio", size=11))
    annotations.append(text(B_YTITLE_X[bc], (ytop + ybot) / 2, "Cytotoxicity index", size=11.5, angle=-90))

fig.update_layout(
    width=W, height=H, margin=dict(l=0, r=0, t=0, b=0, autoexpand=False),
    paper_bgcolor="white", plot_bgcolor="white",
    font=dict(family=FONT, size=11, color="#111"),
    annotations=annotations, shapes=shapes, barmode="overlay", showlegend=False,
    **layout,
)

fig.write_html("out.html")
